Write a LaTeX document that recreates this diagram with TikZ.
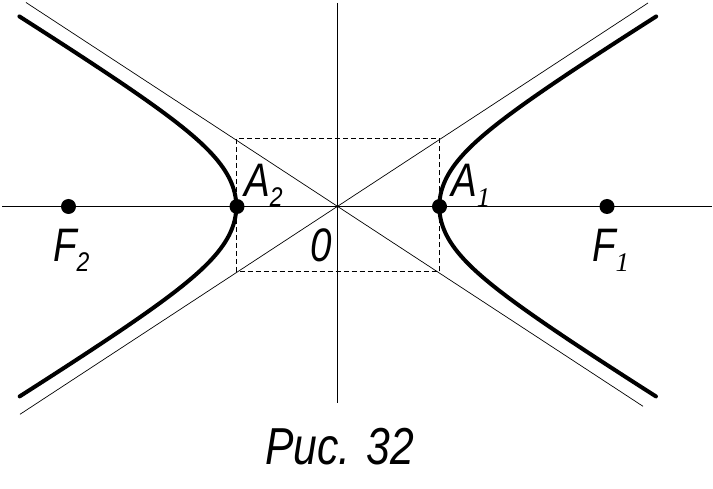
\documentclass[tikz,border=0pt]{standalone}
\usepackage{fontspec}
\setmainfont{Liberation Sans}
\newfontfamily\serifit{Liberation Serif}
\usepackage{graphicx}
\newcommand{\bigit}[1]{\scalebox{0.82}[1]{\itshape\fontsize{47}{47}\selectfont #1}}
\newcommand{\subsans}[1]{\raisebox{-10pt}{\scalebox{0.85}[1]{\itshape\fontsize{27}{27}\selectfont #1}}}
\newcommand{\subserif}[1]{\raisebox{-10pt}{\serifit\itshape\fontsize{27}{27}\selectfont #1}}
\begin{document}
\begin{tikzpicture}[x=1pt,y=-1pt,
  axis/.style={line width=1.1pt},
  asym/.style={line width=0.7pt},
  boxline/.style={line width=1pt, dash pattern=on 5pt off 3pt},
  curve/.style={line width=4pt, line cap=round, line join=round},
  dot/.style={circle, fill=black, inner sep=0pt, minimum size=15pt},
  lbl/.style={anchor=base west, inner sep=0pt}]
\useasboundingbox (0,0) rectangle (713,489);
% center and frame
\coordinate (O) at (337.8,206.5);
\coordinate (xl) at (2,206.5);
\coordinate (xr) at (712,206.5);
\coordinate (yt) at (337.8,3);
\coordinate (yb) at (337.8,403);
\coordinate (tl) at (26,2.5);
\coordinate (br) at (643,406.3);
\coordinate (tr) at (648,3);
\coordinate (bl) at (20,414.3);
\coordinate (r1) at (236.3,139);
\coordinate (r2) at (439.3,271.7);
% axes
\draw[axis] (xl) -- (xr);
\draw[axis] (yt) -- (yb);
% asymptotes
\draw[asym] (tl) -- (br);
\draw[asym] (tr) -- (bl);
% dashed box
\draw[boxline] (r1) rectangle (r2);
% hyperbola
\draw[curve] plot[domain=-1.81:1.81, samples=90, smooth, variable=\t]
  ({337.8-101.5*cosh(\t)}, {206.5+(62.5+14/(cosh(\t)*cosh(\t)))*sinh(\t)});
\draw[curve] plot[domain=-1.81:1.81, samples=90, smooth, variable=\t]
  ({337.8+101.5*cosh(\t)}, {206.5+(62.5+14/(cosh(\t)*cosh(\t)))*sinh(\t)});
% points
\node[dot] (F2) at (68.5,206.5) {};
\node[dot] (A2) at (237,206.5) {};
\node[dot] (A1) at (439.5,206.5) {};
\node[dot] (F1) at (607,206.5) {};
% labels
\node[lbl] (lA2) at (244,197) {\bigit{A}\subsans{2}};
\node[lbl] (lA1) at (451,197) {\bigit{A}\subserif{1}};
\node[lbl] (lF2) at (53,262) {\bigit{F}\subsans{2}};
\node[lbl] (lF1) at (592,262) {\bigit{F}\subserif{1}};
\node[lbl] (l0) at (310,262) {\bigit{0}};
\node[lbl] (cap) at (265,464) {\scalebox{0.82}[1]{\itshape\fontsize{52}{52}\selectfont Рис. 32}};
\end{tikzpicture}
\end{document}
